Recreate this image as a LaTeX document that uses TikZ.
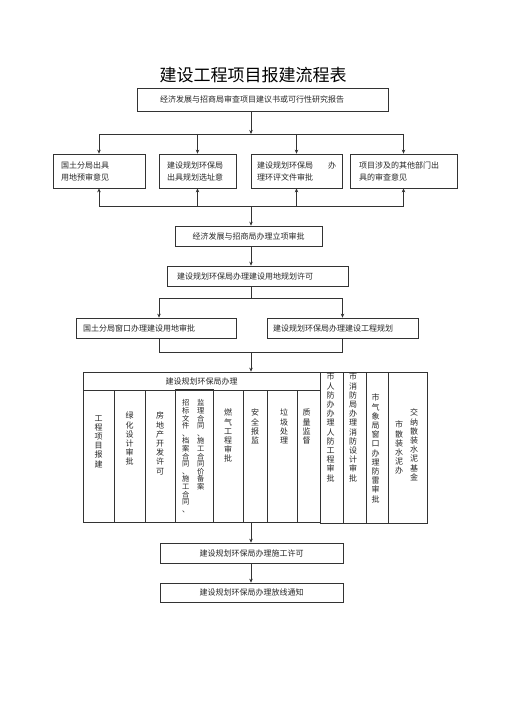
\documentclass[tikz,border=0pt]{standalone}
\usepackage{fontspec}
\usepackage{tikz}
\usetikzlibrary{positioning}
\usetikzlibrary{arrows.meta}
\newfontfamily\cjk{Noto Sans CJK SC}
\definecolor{linecol}{gray}{0.2}
\definecolor{textcol}{gray}{0.15}

\begin{document}
\begin{tikzpicture}[x=1pt, y=-1pt,
    boxnode/.style={shape=rectangle, draw=linecol, line width=0.7pt, inner ysep=0pt, text=textcol, font=\cjk\fontsize{8}{12}\selectfont},
    leftbox/.style={boxnode, align=left},
    colnode/.style={shape=rectangle, draw=linecol, line width=0.7pt, inner sep=0pt},
    vtext/.style={anchor=north, align=center, inner sep=0pt, text=textcol, font=\cjk\fontsize{8}{9.2}\selectfont},
    vtextsmall/.style={vtext, font=\cjk\fontsize{7.3}{7.6}\selectfont},
    arrowline/.style={-{Stealth[length=4pt,width=3.5pt]}, linecol, line width=0.7pt},
    plainline/.style={linecol, line width=0.7pt}
]
\useasboundingbox (0,0) rectangle (505,714);

% Coordinates
\coordinate (split1) at (251,134);
\coordinate (merge1) at (251,206);
\coordinate (split2) at (251,298);
\coordinate (split2_left) at (159,298);
\coordinate (split2_right) at (342.5,298);
\coordinate (merge2) at (251,352);

% Title
\node[font=\cjk\fontsize{17}{17}\selectfont] (title) at (253,75) {建设工程项目报建流程表};

% Boxes
\node[leftbox, minimum height=23, inner xsep=23pt, text width=205pt] (report) at (262.5,99.5) {经济发展与招商局审查项目建议书或可行性研究报告};

\node[leftbox, minimum height=34, inner xsep=8pt, text width=76pt] (landopinion) at (99,171) {国土分局出具\\用地预审意见};
\node[leftbox, minimum height=34, inner xsep=8pt, text width=61pt] (siteopinion) at (197.5,171) {建设规划环保局\\出具规划选址意};
\node[leftbox, minimum height=34, inner xsep=6pt, text width=79pt] (envreview) at (296.5,171) {建设规划环保局\hfill 办\\理环评文件审批};
\node[leftbox, minimum height=34, inner xsep=9pt, text width=89pt] (otheropinion) at (403.5,171) {项目涉及的其他部门出\\具的审查意见};

\node[boxnode, minimum height=20, minimum width=147] (approve) at (248.5,236) {经济发展与招商局办理立项审批};
\node[leftbox, minimum height=20, inner xsep=10pt, text width=161pt] (landlic) at (257.5,276) {建设规划环保局办理建设用地规划许可};

\node[leftbox, minimum height=20, inner xsep=7pt, text width=146pt] (landreview) at (156,328) {国土分局窗口办理建设用地审批};
\node[leftbox, minimum height=20, inner xsep=6pt, text width=139pt] (projplan) at (342.5,328) {建设规划环保局办理建设工程规划};

% big table
\node[boxnode, minimum height=18, minimum width=237] (hdr) at (201.5,381) {建设规划环保局办理};
\node[colnode, minimum width=31, minimum height=132] (c1) at (98.5,456) {};
\node[colnode, minimum width=31, minimum height=132] (c2) at (129.5,456) {};
\node[colnode, minimum width=30, minimum height=132] (c3) at (160,456) {};
\node[colnode, minimum width=38, minimum height=133] (c4) at (194,455.5) {};
\node[colnode, minimum width=30, minimum height=132] (c5) at (228,456) {};
\node[colnode, minimum width=24, minimum height=132] (c6) at (255,456) {};
\node[colnode, minimum width=30, minimum height=132] (c7) at (282,456) {};
\node[colnode, minimum width=23, minimum height=132] (c8) at (308.5,456) {};
\node[colnode, minimum width=23, minimum height=151] (c9) at (331.5,447.5) {};
\node[colnode, minimum width=23, minimum height=151] (c10) at (354.5,447.5) {};
\node[colnode, minimum width=22, minimum height=151] (c11) at (377,447.5) {};
\node[colnode, minimum width=39, minimum height=151] (c12) at (407.5,447.5) {};

\node[vtext] (t1) at (98.5,415) {工\\程\\项\\目\\报\\建};
\node[vtext] (t2) at (129.5,412) {绿\\化\\设\\计\\审\\批};
\node[vtext] (t3) at (160,412) {房\\地\\产\\开\\发\\许\\可};
\node[vtextsmall] (t4a) at (185.7,399.5) {招\\标\\文\\件\\、\\档\\案\\合\\同\\、\\施\\工\\合\\同\\、};
\node[vtextsmall] (t4b) at (200.7,399.5) {监\\理\\合\\同\\、\\施\\工\\合\\同\\价\\备\\案};
\node[vtext] (t5) at (228,409) {燃\\气\\工\\程\\审\\批};
\node[vtext] (t6) at (255,409) {安\\全\\报\\监};
\node[vtext] (t7) at (284,409) {垃\\圾\\处\\理};
\node[vtext] (t8) at (306.7,409) {质\\量\\监\\督};
\node[vtext] (t9) at (330.7,373) {市\\人\\防\\办\\办\\理\\人\\防\\工\\程\\审\\批};
\node[vtext] (t10) at (353,373) {市\\消\\防\\局\\办\\理\\消\\防\\设\\计\\审\\批};
\node[vtext] (t11) at (375.7,394) {市\\气\\象\\局\\窗\\口\\办\\理\\防\\雷\\审\\批};
\node[vtext] (t12a) at (414,409) {交\\纳\\散\\装\\水\\泥\\基\\金};
\node[vtext] (t12b) at (399,421) {市\\散\\装\\水\\泥\\办};

\node[boxnode, minimum height=20, minimum width=183] (buildlic) at (251.5,553) {建设规划环保局办理施工许可};
\node[boxnode, minimum height=19, minimum width=183] (setout) at (251.5,592.5) {建设规划环保局办理放线通知};

% Arrows
\draw[arrowline] (report.south -| split1) -- (split1);
\draw[plainline] (landopinion.north |- split1) -- (otheropinion.north |- split1);
\foreach \b in {landopinion,siteopinion,envreview,otheropinion}
  \draw[arrowline] (\b.north |- split1) -- (\b.north);
\draw[plainline] (landopinion.south |- merge1) -- (otheropinion.south |- merge1);
\foreach \b in {landopinion,siteopinion,envreview,otheropinion}
  \draw[arrowline] (\b.south |- merge1) -- (\b.south);
\draw[arrowline] (merge1) -- (approve.north -| merge1);
\draw[arrowline] (approve.south -| split1) -- (landlic.north -| split1);

\draw[plainline] (landlic.south -| split2) -- (split2);
\draw[plainline] (split2_left) -- (split2_right);
\draw[arrowline] (split2_left) -- (landreview.north -| split2_left);
\draw[arrowline] (split2_right) -- (projplan.north);
\draw[plainline] (landreview.south -| split2_left) -- (split2_left |- merge2) -- (projplan.south |- merge2) -- (projplan.south);
\draw[arrowline] (merge2) -- (hdr.north -| merge2);

\draw[arrowline] (c6.south -| merge2) -- (buildlic.north -| merge2);
\draw[arrowline] (buildlic.south -| merge2) -- (setout.north -| merge2);

\end{tikzpicture}
\end{document}
